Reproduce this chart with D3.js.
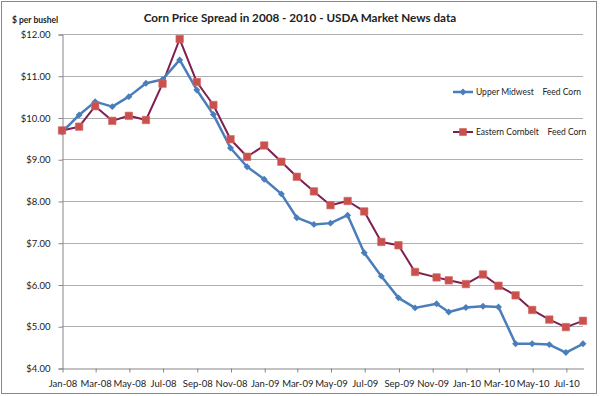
<!DOCTYPE html>
<html>
<head>
<meta charset="utf-8">
<script src="https://cdn.jsdelivr.net/npm/d3@7"></script>
<style>
  html, body { margin: 0; padding: 0; background: #fff; }
  svg { display: block; }
  text { font-family: Lato, "Open Sans", sans-serif; fill: #222; }
</style>
</head>
<body>
<svg id="chart" width="600" height="396"></svg>
<script>
// ---- data ----
const dates = [
  "2008-01-01","2008-02-01","2008-03-01","2008-04-01","2008-05-01","2008-06-01",
  "2008-07-01","2008-08-01","2008-09-01","2008-10-01","2008-11-01","2008-12-01",
  "2009-01-01","2009-02-01","2009-03-01","2009-04-01","2009-05-01","2009-06-01",
  "2009-07-01","2009-08-01","2009-09-01","2009-10-01","2009-11-09","2009-12-01",
  "2010-01-01","2010-02-01","2010-03-01","2010-04-01","2010-05-01","2010-06-01",
  "2010-07-01","2010-08-01"
];
const upperMidwest = [
  9.65,10.06,10.38,10.26,10.50,10.82,10.91,11.38,10.66,10.07,9.27,8.82,
  8.52,8.17,7.60,7.44,7.47,7.66,6.76,6.20,5.68,5.44,5.54,5.34,
  5.45,5.48,5.46,4.58,4.58,4.56,4.37,4.58
];
const easternCornbelt = [
  9.69,9.78,10.27,9.92,10.04,9.94,10.81,11.88,10.85,10.30,9.48,9.06,
  9.33,8.94,8.58,8.23,7.90,8.00,7.75,7.02,6.94,6.30,6.17,6.10,
  6.01,6.24,5.97,5.74,5.39,5.16,4.98,5.13
];
const seriesNames = ["Upper Midwest    Feed Corn", "Eastern Cornbelt    Feed Corn"];
const yTicks = [4,5,6,7,8,9,10,11,12];
const xDomain = ["2008-01-01","2010-08-01"];
const titleText = "Corn Price Spread in 2008 - 2010 - USDA Market News data";
const yAxisTitle = "$ per bushel";

// ---- setup ----
const parse = d3.utcParse("%Y-%m-%d");
const svg = d3.select("#chart");
const pL = 62, pR = 583, pT = 34, pB = 368;

const x = d3.scaleUtc().domain(xDomain.map(parse)).range([pL, pR]);
const y = d3.scaleLinear().domain([4, 12]).range([pB, pT]);

// chart border
svg.append("rect").attr("x", 1.5).attr("y", 1.5).attr("width", 595).attr("height", 392)
  .attr("fill", "none").attr("stroke", "#8a8a8a").attr("stroke-width", 1);

// gridlines
svg.append("g").selectAll("line").data(yTicks.filter(d => d > 4)).join("line")
  .attr("x1", pL).attr("x2", pR)
  .attr("y1", d => Math.round(y(d)) + 0.5).attr("y2", d => Math.round(y(d)) + 0.5)
  .attr("stroke", "#b0b0b0").attr("stroke-width", 1);

// y axis
const yAxis = d3.axisLeft(y).tickValues(yTicks).tickSize(4).tickPadding(8)
  .tickFormat(d => "$" + d3.format(".2f")(d));
const gy = svg.append("g").attr("transform", `translate(${pL + 0.5},0.5)`).call(yAxis);
gy.select(".domain").attr("stroke", "#868686");
gy.selectAll(".tick line").attr("stroke", "#868686");
gy.selectAll(".tick text").attr("font-size", 9.5).attr("fill", "#222")
  .style("font-family", "Lato, sans-serif");

// x axis
const xTickVals = d3.utcMonth.every(2).range(parse("2008-01-01"), parse("2010-08-02"));
const xAxis = d3.axisBottom(x).tickValues(xTickVals).tickSize(4).tickSizeOuter(0).tickPadding(8)
  .tickFormat(d3.utcFormat("%b-%y"));
const gx = svg.append("g").attr("transform", `translate(0.5,${pB + 0.5})`).call(xAxis);
gx.select(".domain").attr("stroke", "#868686");
gx.selectAll(".tick line").attr("stroke", "#868686");
gx.selectAll(".tick text").attr("font-size", 9.5).attr("fill", "#222")
  .style("font-family", "Lato, sans-serif");

// title and axis title
svg.append("text").attr("x", 300).attr("y", 22).attr("text-anchor", "middle")
  .attr("font-size", 11.7).attr("font-weight", "bold").text(titleText);
svg.append("text").attr("x", 12).attr("y", 23)
  .attr("font-size", 8.5).attr("font-weight", "bold").text(yAxisTitle);

// series
const pts1 = dates.map((d, i) => ({ d: parse(d), v: upperMidwest[i] }));
const pts2 = dates.map((d, i) => ({ d: parse(d), v: easternCornbelt[i] }));
const line = d3.line().x(p => x(p.d)).y(p => y(p.v));

const blue = "#4a7ebb", blueMark = "#4a7ebb", maroon = "#7f1e4f", red = "#c8504d";

svg.append("path").datum(pts2).attr("d", line).attr("fill", "none")
  .attr("stroke", maroon).attr("stroke-width", 2).attr("stroke-linejoin", "round");
svg.append("path").datum(pts1).attr("d", line).attr("fill", "none")
  .attr("stroke", blue).attr("stroke-width", 2.5).attr("stroke-linejoin", "round");

const smallSq = d3.symbol().type(d3.symbolSquare).size(24);
const square = d3.symbol().type(d3.symbolSquare).size(56);

svg.append("g").selectAll("path").data(pts1).join("path")
  .attr("d", smallSq())
  .attr("transform", p => `translate(${x(p.d)},${y(p.v)}) rotate(45)`)
  .attr("fill", blueMark);
svg.append("g").selectAll("path").data(pts2).join("path")
  .attr("transform", p => `translate(${x(p.d)},${y(p.v)})`)
  .attr("d", square()).attr("fill", red).attr("stroke", "#d96a66").attr("stroke-width", 0.6);

// legend
const leg = svg.append("g");
const legY = [92, 132];
leg.append("line").attr("x1", 453).attr("x2", 473).attr("y1", legY[0]).attr("y2", legY[0])
  .attr("stroke", blue).attr("stroke-width", 2.5);
leg.append("path").attr("d", smallSq())
  .attr("transform", `translate(463,${legY[0]}) rotate(45)`).attr("fill", blueMark);
leg.append("line").attr("x1", 453).attr("x2", 473).attr("y1", legY[1]).attr("y2", legY[1])
  .attr("stroke", maroon).attr("stroke-width", 2);
leg.append("path").attr("d", square()).attr("transform", `translate(463,${legY[1]})`)
  .attr("fill", red);
leg.selectAll("text").data(seriesNames).join("text")
  .attr("x", 476).attr("y", (d, i) => legY[i]).attr("dy", "0.35em")
  .attr("font-size", 8.5).style("white-space", "pre")
  .text(d => d);
</script>
</body>
</html>
